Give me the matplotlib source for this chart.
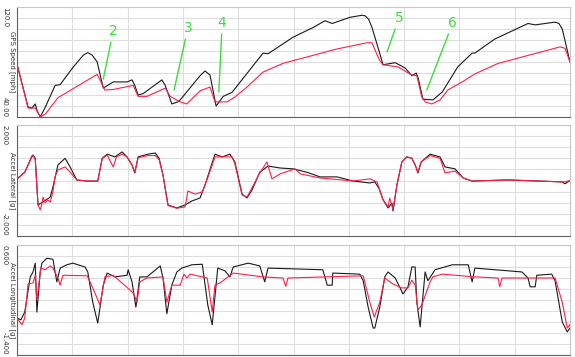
import matplotlib
matplotlib.use("Agg")  # no display
import matplotlib.pyplot as plt
import matplotlib.transforms as mtransforms

# ---------------------------------------------------------
# Data: distance along the lap (grid units 0-10) + channel values
# "ref" = black trace, "drv" = red trace
# ---------------------------------------------------------

speed_ref_x = [0, 0.2, 0.27, 0.33, 0.36, 0.42, 0.51, 0.69, 0.78, 1.01, 1.2, 1.28, 1.36,
               1.45, 1.56, 1.74, 1.99, 2.08, 2.13, 2.19, 2.28, 2.62, 2.68, 2.8,
               2.91, 2.95, 3.31, 3.4, 3.49, 3.6, 3.73, 3.89, 4.45, 4.54, 4.99, 5.35,
               5.57, 5.7, 6.02, 6.24, 6.3, 6.36, 6.42, 6.51, 6.62, 6.84, 7.02, 7.14,
               7.22, 7.25, 7.34, 7.52, 7.69, 7.97, 8.23, 8.28, 8.64, 9.24, 9.37,
               9.73, 9.8, 9.86, 10.0]
speed_ref = [78.5, 47.3, 46.5, 49.5, 45, 40, 47, 63, 63.5, 76, 85, 86.8, 85,
             80, 61, 65.5, 65.5, 67, 63, 56, 57, 67, 63, 49.5,
             51, 52.4, 70, 73.5, 70.5, 48, 55, 58, 86.5, 86, 98, 105,
             110, 108, 112.5, 114, 113.5, 111, 105, 93, 78, 79.5, 75.6, 70,
             72, 69, 53, 52.4, 58.2, 76.4, 86.5, 86.5, 96.7, 108, 107,
             109, 108, 104, 80]

speed_drv_x = [0, 0.2, 0.33, 0.42, 0.51, 0.74, 1.45, 1.59, 1.74, 2.1, 2.19, 2.35,
               2.68, 2.77, 2.95, 3.07, 3.31, 3.49, 3.58, 3.8, 3.94, 4.16, 4.45,
               4.81, 5.79, 6.33, 6.42, 6.47, 6.56, 6.62, 6.89, 7.14, 7.23, 7.32,
               7.38, 7.5, 7.65, 7.79, 8.05, 8.28, 8.7, 9.82, 9.91, 10.0]
speed_drv = [78.5, 46.5, 46.5, 40, 42, 54, 71, 59.6, 60, 63, 55, 55,
             61, 55, 51, 49.5, 59, 61.8, 51, 51, 54.5, 61.8, 72.7,
             79, 89.5, 94, 94, 89, 81, 78, 76.4, 70.5, 70, 54.5,
             51, 49.5, 52.4, 59.6, 65.5, 71.3, 79, 91, 90, 80]

lat_ref_x = [0, 0.14, 0.27, 0.29, 0.33, 0.38, 0.47, 0.6, 0.65, 0.74, 0.87, 0.96,
             1.08, 1.27, 1.46, 1.54, 1.63, 1.77, 1.9, 1.99, 2.08, 2.13, 2.19,
             2.37, 2.5, 2.57, 2.64, 2.73, 2.89, 3.04, 3.16, 3.31, 3.4, 3.58,
             3.71, 3.85, 3.94, 4.07, 4.16, 4.25, 4.39, 4.54, 4.76, 4.99, 5.24,
             5.48, 5.79, 6.08, 6.38, 6.47, 6.55, 6.62, 6.71, 6.78, 6.8, 6.87,
             6.96, 7.05, 7.14, 7.2, 7.25, 7.31, 7.47, 7.65, 7.74, 7.92, 8.07,
             8.23, 8.88, 9.86, 9.91, 10.0]
lat_ref = [0.05, 0.3, 0.88, 0.92, 0.8, -0.88, -0.77, -0.6, -0.23, 0.56, 0.8, 0.49,
           0.02, -0.02, -0.02, 0.8, 0.95, 0.85, 1.03, 0.85, 0.56, 0.27, 0.85,
           0.95, 0.99, 0.8, 0.2, -0.88, -0.99, -0.88, -0.74, -0.63, -0.16, 0.95,
           0.85, 0.95, 0.67, -0.49, -0.63, -0.34, 0.3, 0.52, 0.45, 0.42, 0.3,
           0.13, 0.13, -0.02, -0.09, -0.05, -0.3, -0.7, -0.99, -0.81, -1.1, -0.16,
           0.67, 0.85, 0.8, 0.56, 0.27, 0.67, 0.95, 0.85, 0.49, 0.42, 0.09,
           -0.02, 0.02, -0.05, -0.12, 0.0]

lat_drv_x = [0, 0.14, 0.27, 0.29, 0.33, 0.38, 0.42, 0.45, 0.47, 0.51, 0.56, 0.6,
             0.65, 0.69, 0.74, 0.87, 0.96, 1.08, 1.27, 1.46, 1.54, 1.63, 1.74,
             1.8, 1.9, 1.99, 2.08, 2.13, 2.19, 2.37, 2.5, 2.57, 2.64, 2.73, 2.89,
             3.04, 3.09, 3.22, 3.35, 3.45, 3.58, 3.89, 3.94, 4.07, 4.16, 4.39,
             4.52, 4.61, 4.76, 5.03, 5.12, 5.48, 5.66, 6.08, 6.38, 6.51, 6.62,
             6.71, 6.74, 6.8, 6.87, 6.96, 7.05, 7.14, 7.2, 7.25, 7.31, 7.47,
             7.65, 7.74, 7.92, 8.07, 8.23, 8.88, 9.86, 9.91, 10.0]
lat_drv = [0.05, 0.3, 0.85, 0.9, 0.75, -0.88, -1.06, -0.85, -0.6, -0.8, -0.7, -0.78,
           -0.4, 0.15, 0.38, 0.49, 0.3, 0.02, -0.02, -0.02, 0.78, 0.92, 0.49,
           0.85, 0.95, 0.85, 0.55, 0.3, 0.82, 0.9, 0.9, 0.75, 0.2, -0.9, -1.0,
           -0.95, -0.38, -0.49, -0.41, 0.1, 0.85, 0.85, 0.6, -0.52, -0.6, 0.27,
           0.67, 0.06, 0.24, 0.42, 0.24, 0.09, 0.06, -0.02, 0.06, -0.05, -0.7,
           -0.95, -0.63, -1.05, -0.16, 0.67, 0.85, 0.8, 0.56, 0.3, 0.67, 0.9,
           0.8, 0.27, 0.34, 0.09, -0.02, 0.02, -0.05, -0.05, 0.0]

lon_ref_x = [0, 0.07, 0.14, 0.24, 0.29, 0.33, 0.36, 0.42, 0.45, 0.54, 0.65, 0.72,
             0.78, 0.9, 1.01, 1.23, 1.28, 1.37, 1.46, 1.56, 1.63, 1.77, 1.99,
             2.01, 2.08, 2.15, 2.22, 2.35, 2.59, 2.64, 2.71, 2.8, 2.89, 2.98,
             3.16, 3.35, 3.36, 3.45, 3.53, 3.63, 3.76, 3.85, 3.91, 4.18, 4.39,
             4.48, 4.54, 5.53, 5.61, 5.7, 5.71, 6.2, 6.26, 6.35, 6.44, 6.47,
             6.56, 6.65, 6.71, 6.84, 6.98, 7.07, 7.14, 7.2, 7.23, 7.29, 7.38,
             7.43, 7.56, 7.87, 8.16, 8.23, 8.28, 9.13, 9.24, 9.28, 9.37, 9.4,
             9.67, 9.73, 9.86, 9.95, 10.0]
lon_ref = [-0.73, -0.76, -0.62, 0.02, 0.11, 0.27, -0.62, 0.11, 0.27, 0.36, 0.34, -0.07,
           0.18, 0.24, 0.27, 0.2, 0.11, -0.44, -0.82, -0.13, 0.09, 0.02, 0.05,
           0.15, -0.07, -0.53, 0.02, 0.02, 0.22, 0.0, -0.65, -0.13, 0.11, 0.18,
           0.24, 0.25, 0.18, -0.49, -0.85, 0.18, 0.13, 0.02, 0.2, 0.27, 0.22,
           -0.07, 0.18, 0.15, -0.13, -0.13, 0.09, 0.07, -0.05, -0.53, -0.91, -0.91,
           -0.53, 0.02, 0.11, 0.0, -0.29, -0.16, 0.2, 0.2, -0.44, -0.89, 0.11,
           -0.05, 0.15, 0.24, 0.24, -0.07, 0.18, 0.11, 0.0, -0.16, -0.16, 0.05,
           0.07, -0.05, -0.8, -0.98, -0.91]

lon_drv_x = [0, 0.09, 0.14, 0.2, 0.29, 0.33, 0.36, 0.43, 0.51, 0.6, 0.65, 0.74,
             0.78, 0.83, 1.27, 1.37, 1.5, 1.59, 1.74, 2.1, 2.17, 2.22, 2.35,
             2.64, 2.71, 2.8, 2.95, 3.02, 3.07, 3.13, 3.44, 3.53, 3.58, 3.67,
             3.91, 4.45, 4.81, 4.86, 4.9, 6.26, 6.38, 6.46, 6.56, 6.65, 6.8,
             6.96, 7.07, 7.14, 7.2, 7.25, 7.32, 7.47, 7.52, 7.69, 8.28, 8.7,
             8.73, 8.77, 9.73, 9.86, 9.95, 10.0]
lon_drv = [-0.73, -0.85, -0.73, -0.11, -0.09, 0.05, -0.4, 0.18, 0.15, 0.22, 0.18, 0.0,
           -0.13, 0.05, 0.04, -0.18, -0.49, 0.02, 0.05, -0.27, -0.44, -0.07, 0.0,
           0.02, -0.44, -0.13, -0.13, 0.07, 0.0, 0.07, 0.0, -0.62, -0.13, -0.09,
           0.09, 0.02, 0.0, -0.15, 0.0, 0.04, -0.44, -0.71, -0.44, 0.0, -0.11,
           -0.18, -0.18, -0.04, -0.13, -0.58, -0.49, -0.07, 0.02, 0.07, 0.02, 0.0,
           -0.16, 0.0, 0.0, -0.44, -0.91, -0.85]

# corner markers on the speed trace: label, text position, line tip
corner_labels = ["2", "3", "4", "5", "6"]
corner_text_xy = [(1.74, 102.5), (3.09, 104.7), (3.71, 108.4), (6.91, 112.0), (7.88, 108.4)]
corner_tip_xy = [(1.56, 67.6), (2.84, 59.6), (3.65, 58.2), (6.69, 87.3), (7.41, 59.6)]

# panel definitions: channel name, y range, tick label text
channel_names = ["GPS Speed [mph]", "Accel Lateral [g]", "Accel Longitudinal [g]"]
channel_limits = [(40.0, 120.0), (-2.0, 2.0), (-1.4, 0.6)]
channel_ticklabels = [("40.00", "120.0"), ("-2.000", "2.000"), ("-1.400", "0.600")]

REF_COLOR = "#1a1a1a"
DRV_COLOR = "#ff1f45"
GRID_COLOR = "#dedede"
LABEL_GREEN = "#3ddc3d"

W, H = 575, 357
fig = plt.figure(figsize=(W / 100, H / 100), dpi=100)
fig.patch.set_facecolor("white")

# axes boxes in pixels: (top, bottom)
panel_px = [(7, 117), (125, 236), (245, 355)]
left_px, right_px = 17, 570

series = [
    ((speed_ref_x, speed_ref), (speed_drv_x, speed_drv)),
    ((lat_ref_x, lat_ref), (lat_drv_x, lat_drv)),
    ((lon_ref_x, lon_ref), (lon_drv_x, lon_drv)),
]

axes = []
for i, (top, bot) in enumerate(panel_px):
    ax = fig.add_axes([left_px / W, 1 - bot / H, (right_px - left_px) / W, (bot - top) / H])
    lo, hi = channel_limits[i]
    (rx, ry), (dx, dy) = series[i]

    ax.plot(dx, dy, color=DRV_COLOR, linewidth=0.8, zorder=3)
    ax.plot(rx, ry, color=REF_COLOR, linewidth=0.8, zorder=2)

    ax.set_xlim(0, 10)
    ax.set_ylim(lo, hi)
    ax.set_xticks(range(11))
    step = (hi - lo) / 10
    ax.set_yticks([lo + k * step for k in range(11)])
    ax.tick_params(length=0, labelleft=False, labelbottom=False)
    ax.grid(color=GRID_COLOR, linewidth=0.8)
    ax.set_axisbelow(True)

    # frame: darker on the left/bottom
    for side in ("top", "right"):
        ax.spines[side].set_color("#c8c8c8")
    for side in ("left", "bottom"):
        ax.spines[side].set_color("#606060")
    for sp in ax.spines.values():
        sp.set_linewidth(0.8)

    # rotated end-tick labels and channel name
    trans = mtransforms.blended_transform_factory(ax.transAxes, ax.transData)
    lo_txt, hi_txt = channel_ticklabels[i]
    ax.text(-0.0217, hi, hi_txt, transform=trans, rotation=-90,
            ha="center", va="top", fontsize=5, color="#333333")
    ax.text(-0.0217, lo, lo_txt, transform=trans, rotation=-90,
            ha="center", va="bottom", fontsize=5, color="#333333")
    ax.text(-0.008, 0.5, channel_names[i], transform=ax.transAxes, rotation=-90,
            ha="center", va="center", fontsize=5, color="#333333")
    axes.append(ax)

# green corner numbers on the speed panel
speed_ax = axes[0]
for lab, txy, tip in zip(corner_labels, corner_text_xy, corner_tip_xy):
    speed_ax.annotate(lab, xy=tip, xytext=txy, textcoords="data",
                      ha="center", va="center", fontsize=10, color=LABEL_GREEN,
                      arrowprops=dict(arrowstyle="-", color=LABEL_GREEN, lw=1.0,
                                      shrinkA=1, shrinkB=0),
                      zorder=5)

fig.savefig("out.png", dpi=100, facecolor=fig.get_facecolor())
